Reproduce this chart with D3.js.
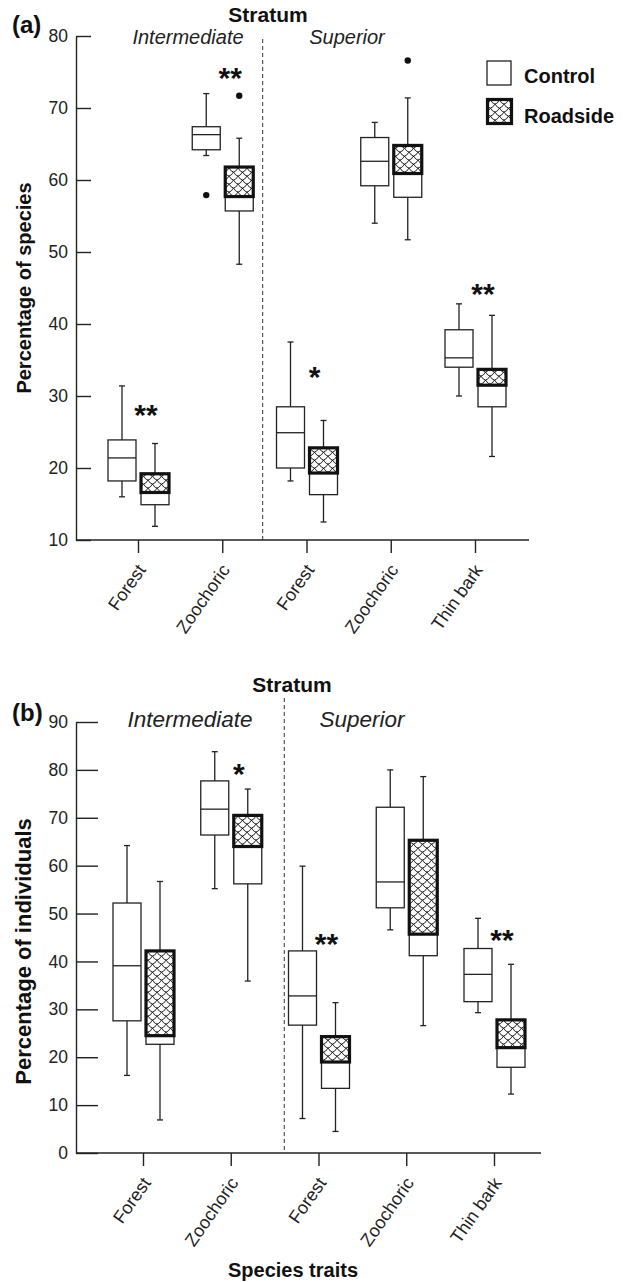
<!DOCTYPE html>
<html>
<head>
<meta charset="utf-8">
<script src="https://cdn.jsdelivr.net/npm/d3@7"></script>
<style>
  body { margin: 0; background: #fff; }
  text { font-family: "Liberation Sans", Arial, sans-serif; }
</style>
</head>
<body>
<script>
// categories
const groups = ["int-forest", "int-zoochoric", "sup-forest", "sup-zoochoric", "sup-thinbark"];
const traitLabels = ["Forest", "Zoochoric", "Forest", "Zoochoric", "Thin bark"];
const strata = ["Intermediate", "Superior"];
const treatments = ["Control", "Roadside"];

// (a) percentage of species, each box = [min, q1, median, q3, max]
const speciesControl = [
  [16.0, 18.2, 21.4, 23.9, 31.4],
  [63.4, 64.2, 66.3, 67.4, 72.0],
  [18.2, 20.0, 24.9, 28.5, 37.5],
  [54.0, 59.2, 62.6, 65.9, 68.0],
  [30.0, 34.0, 35.3, 39.2, 42.8]
];
const speciesRoadside = [
  [11.9, 14.9, 16.6, 19.2, 23.4],
  [48.3, 55.7, 57.7, 61.8, 65.8],
  [12.5, 16.3, 19.3, 22.8, 26.6],
  [51.7, 57.6, 60.9, 64.8, 71.4],
  [21.6, 28.5, 31.5, 33.7, 41.2]
];
const speciesControlOutliers = [[], [57.9], [], [], []];
const speciesRoadsideOutliers = [[], [71.7], [], [76.6], []];
const speciesSig = ["**", "**", "*", "", "**"];
const speciesSigLevel = [28.4, 75.1, 33.6, null, 45.2];
const speciesTicks = [10, 20, 30, 40, 50, 60, 70, 80];

// (b) percentage of individuals
const indivControl = [
  [16.2, 27.6, 39.1, 52.2, 64.2],
  [55.2, 66.4, 71.8, 77.7, 83.8],
  [7.2, 26.7, 32.8, 42.2, 59.9],
  [46.6, 51.2, 56.6, 72.2, 80.0],
  [29.3, 31.6, 37.3, 42.7, 49.0]
];
const indivRoadside = [
  [6.9, 22.7, 24.5, 42.2, 56.7],
  [35.9, 56.2, 64.0, 70.5, 76.0],
  [4.5, 13.5, 19.0, 24.3, 31.4],
  [26.6, 41.2, 45.7, 65.3, 78.6],
  [12.3, 17.9, 22.0, 27.8, 39.4]
];
const indivControlOutliers = [[], [], [], [], []];
const indivRoadsideOutliers = [[], [], [], [], []];
const indivSig = ["", "*", "**", "", "**"];
const indivSigLevel = [null, 80.6, 45.2, null, 45.9];
const indivTicks = [0, 10, 20, 30, 40, 50, 60, 70, 80, 90];

const svg = d3.select("body").append("svg")
  .attr("width", 624)
  .attr("height", 1282);

// fish-scale net used for the roadside boxes
const pat = svg.append("defs").append("pattern")
  .attr("id", "scales")
  .attr("patternUnits", "userSpaceOnUse")
  .attr("width", 9)
  .attr("height", 8);
pat.append("rect").attr("width", 9).attr("height", 8).attr("fill", "#fff");
pat.append("path")
  .attr("d", "M0,0 Q4.5,8 9,0 M-4.5,4 Q0,12 4.5,4 M4.5,4 Q9,12 13.5,4 M-4.5,-4 Q0,4 4.5,-4 M4.5,-4 Q9,4 13.5,-4")
  .attr("fill", "none")
  .attr("stroke", "#111")
  .attr("stroke-width", 0.9);

const ink = "#222";

const panels = [
  {
    tag: "(a)", tagY: 33, title: "Stratum", titleX: 268, titleY: 22,
    strataY: 44, strataSize: 20, strataX: [188, 347],
    ylabel: "Percentage of species", ylabelSize: 20,
    domain: [10, 80], ticks: speciesTicks, top: 36, bottom: 540,
    width: 453, xRange: [62, 399], innerTick: 15, divFrac: 0.48, divTop: 39,
    control: speciesControl, roadside: speciesRoadside,
    controlOut: speciesControlOutliers, roadsideOut: speciesRoadsideOutliers,
    sig: speciesSig, sigLevel: speciesSigLevel, legend: true
  },
  {
    tag: "(b)", tagY: 721, title: "Stratum", titleX: 292, titleY: 692,
    strataY: 727, strataSize: 22.5, strataX: [190, 362],
    ylabel: "Percentage of individuals", ylabelSize: 22,
    domain: [0, 90], ticks: indivTicks, top: 722, bottom: 1153,
    width: 465, xRange: [67, 418], innerTick: 22, divFrac: 0.61, divTop: 698,
    control: indivControl, roadside: indivRoadside,
    controlOut: indivControlOutliers, roadsideOut: indivRoadsideOutliers,
    sig: indivSig, sigLevel: indivSigLevel, legend: false
  }
];

const left = 76;

panels.forEach(p => {
  const g = svg.append("g").attr("transform", `translate(${left},0)`);

  const y = d3.scaleLinear().domain(p.domain).range([p.bottom, p.top]);
  const x = d3.scalePoint().domain(groups).range(p.xRange);

  // y axis, ticks pointing inward
  const ya = g.append("g")
    .call(d3.axisLeft(y).tickValues(p.ticks).tickSize(-p.innerTick).tickSizeOuter(0).tickPadding(8));
  ya.select(".domain").attr("stroke", ink).attr("stroke-width", 1.4);
  ya.selectAll(".tick line").attr("stroke", ink).attr("stroke-width", 1.4);
  ya.selectAll(".tick text")
    .attr("font-size", 17.5)
    .attr("fill", "#222")
    .attr("font-family", "Liberation Sans, Arial, sans-serif");

  // x axis
  const xa = g.append("g")
    .attr("transform", `translate(0,${p.bottom})`)
    .call(d3.axisBottom(x).tickSize(13).tickSizeOuter(0).tickFormat((d, i) => traitLabels[i]));
  xa.select(".domain").remove();
  xa.selectAll(".tick line").attr("stroke", ink).attr("stroke-width", 1.4);
  xa.selectAll(".tick text")
    .attr("x", 0).attr("y", 0).attr("dy", null)
    .attr("text-anchor", "end")
    .attr("transform", "translate(8,30) rotate(-55)")
    .attr("font-size", 18)
    .attr("fill", "#222")
    .attr("font-family", "Liberation Sans, Arial, sans-serif");
  g.append("line")
    .attr("x1", 0).attr("x2", p.width)
    .attr("y1", p.bottom).attr("y2", p.bottom)
    .attr("stroke", ink).attr("stroke-width", 1.4);

  // stratum divider
  const divX = x(groups[1]) + x.step() * p.divFrac;
  g.append("line")
    .attr("x1", divX).attr("x2", divX)
    .attr("y1", p.divTop).attr("y2", p.bottom)
    .attr("stroke", "#333").attr("stroke-width", 1)
    .attr("stroke-dasharray", "4,3");

  // boxes
  const half = 14;
  const drawWhiskers = (cx, s) => {
    const w = g.append("g").attr("stroke", ink).attr("stroke-width", 1.3);
    w.append("line").attr("x1", cx).attr("x2", cx).attr("y1", y(s[4])).attr("y2", y(s[3]));
    w.append("line").attr("x1", cx).attr("x2", cx).attr("y1", y(s[1])).attr("y2", y(s[0]));
    w.append("line").attr("x1", cx - 3).attr("x2", cx + 3).attr("y1", y(s[4])).attr("y2", y(s[4]));
    w.append("line").attr("x1", cx - 3).attr("x2", cx + 3).attr("y1", y(s[0])).attr("y2", y(s[0]));
  };

  groups.forEach((grp, i) => {
    const c = p.control[i];
    const r = p.roadside[i];
    const cx = x(grp) - 16;
    const rx = x(grp) + 17;

    drawWhiskers(cx, c);
    g.append("rect")
      .attr("x", cx - half).attr("width", half * 2)
      .attr("y", y(c[3])).attr("height", y(c[1]) - y(c[3]))
      .attr("fill", "#fff").attr("stroke", ink).attr("stroke-width", 1.3);
    g.append("line")
      .attr("x1", cx - half).attr("x2", cx + half)
      .attr("y1", y(c[2])).attr("y2", y(c[2]))
      .attr("stroke", ink).attr("stroke-width", 1.3);

    drawWhiskers(rx, r);
    g.append("rect")
      .attr("x", rx - half).attr("width", half * 2)
      .attr("y", y(r[2])).attr("height", y(r[1]) - y(r[2]))
      .attr("fill", "#fff").attr("stroke", ink).attr("stroke-width", 1.3);
    g.append("rect")
      .attr("x", rx - half).attr("width", half * 2)
      .attr("y", y(r[3])).attr("height", y(r[2]) - y(r[3]))
      .attr("fill", "url(#scales)").attr("stroke", "#111").attr("stroke-width", 3.2);

    p.controlOut[i].forEach(v => {
      g.append("circle").attr("cx", cx).attr("cy", y(v)).attr("r", 3.2).attr("fill", "#111");
    });
    p.roadsideOut[i].forEach(v => {
      g.append("circle").attr("cx", rx).attr("cy", y(v)).attr("r", 3.2).attr("fill", "#111");
    });

    if (p.sig[i]) {
      g.append("text")
        .attr("x", x(grp) + 8)
        .attr("y", y(p.sigLevel[i]) + 17)
        .attr("text-anchor", "middle")
        .attr("font-size", 30)
        .attr("font-weight", "bold")
        .attr("fill", "#111")
        .text(p.sig[i]);
    }
  });

  // titles
  svg.append("text")
    .attr("x", 12).attr("y", p.tagY)
    .attr("font-size", 24).attr("font-weight", "bold").attr("fill", "#111")
    .text(p.tag);
  svg.append("text")
    .attr("x", p.titleX).attr("y", p.titleY)
    .attr("text-anchor", "middle")
    .attr("font-size", 21).attr("font-weight", "bold").attr("fill", "#111")
    .text(p.title);
  strata.forEach((s, i) => {
    svg.append("text")
      .attr("x", p.strataX[i]).attr("y", p.strataY)
      .attr("text-anchor", "middle")
      .attr("font-size", p.strataSize).attr("font-style", "italic").attr("fill", "#222")
      .text(s);
  });
  svg.append("text")
    .attr("transform", `translate(31,${(p.top + p.bottom) / 2 + (p.legend ? 0 : 14)}) rotate(-90)`)
    .attr("text-anchor", "middle")
    .attr("font-size", p.ylabelSize).attr("font-weight", "bold").attr("fill", "#111")
    .text(p.ylabel);

  // legend
  if (p.legend) {
    const lg = svg.append("g");
    lg.append("rect")
      .attr("x", 487).attr("y", 61).attr("width", 24).attr("height", 24)
      .attr("fill", "#fff").attr("stroke", ink).attr("stroke-width", 1.3);
    lg.append("rect")
      .attr("x", 487.5).attr("y", 99.5).attr("width", 24).attr("height", 24)
      .attr("fill", "url(#scales)").attr("stroke", "#111").attr("stroke-width", 3.2);
    treatments.forEach((t, i) => {
      lg.append("text")
        .attr("x", 524).attr("y", 83 + i * 40)
        .attr("font-size", 20).attr("font-weight", "bold").attr("fill", "#111")
        .text(t);
    });
  }
});

svg.append("text")
  .attr("x", 293).attr("y", 1277)
  .attr("text-anchor", "middle")
  .attr("font-size", 20).attr("font-weight", "bold").attr("fill", "#111")
  .text("Species traits");
</script>
</body>
</html>
